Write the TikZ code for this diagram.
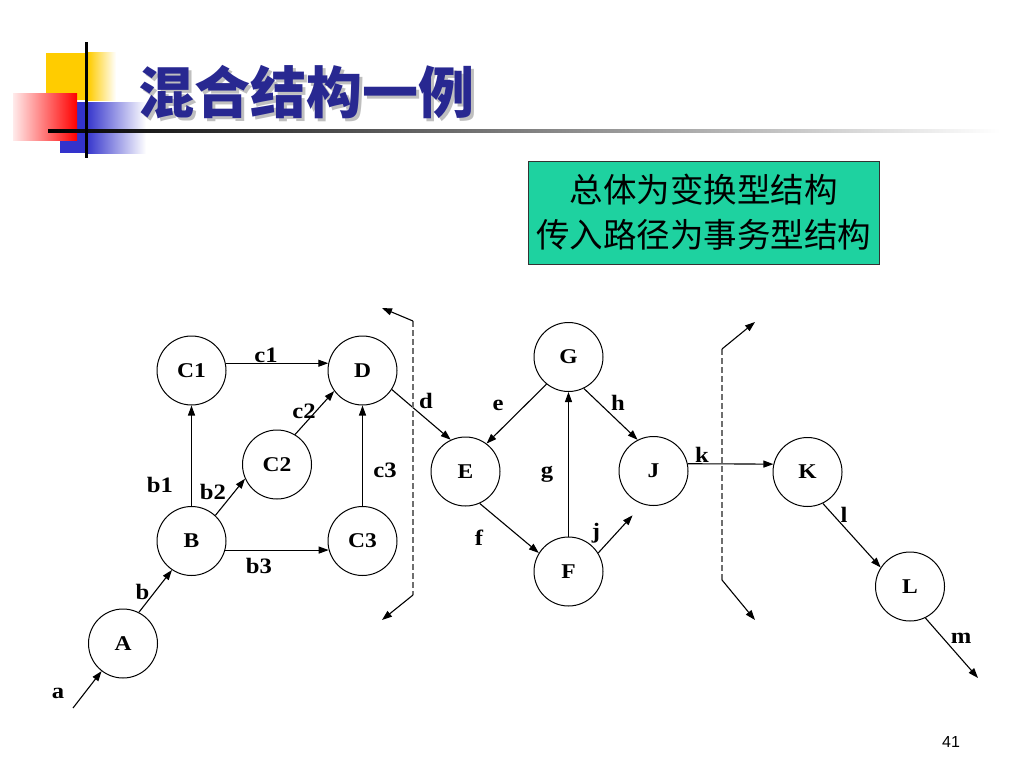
\documentclass[tikz,border=0pt]{standalone}
\usepackage{fontspec}
\setmainfont{Liberation Serif}
\newfontfamily\lblfont[FakeStretch=1.12]{Liberation Serif}
\newfontfamily\cjk{Noto Sans CJK SC}
\newfontfamily\pgsans{Liberation Sans}
\usetikzlibrary{arrows.meta}
\definecolor{titleblue}{RGB}{40,40,145}
\definecolor{decoyellow}{RGB}{255,204,0}
\definecolor{decoblue}{RGB}{51,51,204}
\definecolor{boxgreen}{RGB}{30,210,160}
\definecolor{dashgray}{RGB}{110,110,110}
\tikzset{
  st/.style={circle,draw,line width=1pt,minimum size=69pt,inner sep=0pt,font=\lblfont\fontsize{21}{21}\selectfont\bfseries},
  lbl/.style={font=\lblfont\fontsize{22}{22}\selectfont\bfseries,inner sep=0pt,anchor=base},
  flow/.style={line width=1.1pt,-{Triangle[length=10pt,width=7pt]}},
  brk/.style={draw=dashgray,line width=1.2pt,dash pattern=on 6pt off 3pt},
}
\begin{document}
\begin{tikzpicture}[x=1pt,y=-1pt]
\useasboundingbox (0,0) rectangle (1024,768);
\fill[white] (0,0) rectangle (1024,768);
% decoration
\fill[decoyellow] (46,53) rectangle (88,100);
\shade[left color=decoyellow,right color=white] (88,53) rectangle (116,100);
\shade[left color=decoblue,right color=white] (86,102) rectangle (146,153);
\fill[decoblue] (60,102) rectangle (86,153);
\shade[left color=red!8,right color=red] (13,93) rectangle (77,140);
\shade[left color=black,middle color=black!70,right color=white] (48,129.5) rectangle (1000,132.5);
\fill[black] (84.5,42) rectangle (87.5,158);
% title
\node[anchor=west,text=gray!50,font=\cjk\bfseries\fontsize{56}{56}\selectfont,inner sep=0pt] (titleshadow) at (141,95) {混合结构一例};
\node[anchor=west,text=titleblue,font=\cjk\bfseries\fontsize{56}{56}\selectfont,inner sep=0pt] (title) at (138,92) {混合结构一例};
% green box
\node[draw=black!80,fill=boxgreen,line width=0.8pt,minimum width=351pt,minimum height=103pt,align=center,inner sep=0pt,font=\cjk\fontsize{33.5}{45}\selectfont] (note) at (703.5,212.5) {总体为变换型结构\\传入路径为事务型结构};
% nodes
\node[st] (A) at (123,643.5) {A};
\node[st] (B) at (191.5,541) {B};
\node[st] (C1) at (191.5,370.5) {C1};
\node[st] (C2) at (277,464.5) {C2};
\node[st] (C3) at (362.5,541) {C3};
\node[st] (D) at (362.5,370.5) {D};
\node[st] (E) at (465.5,471.5) {E};
\node[st] (G) at (568.5,357) {G};
\node[st] (F) at (568.5,571.5) {F};
\node[st] (J) at (653.5,471) {J};
\node[st] (K) at (807.5,472) {K};
\node[st] (L) at (910,586.5) {L};
% free ends
\coordinate (a0) at (73,708);
\coordinate (m0) at (978,678);
\coordinate (lb1) at (413,321);
\coordinate (lb2) at (413,595);
\coordinate (lbt) at (382,308);
\coordinate (lbb) at (382,620);
\coordinate (rb1) at (722,349);
\coordinate (rb2) at (722,580);
\coordinate (rbt) at (755,322);
\coordinate (rbb) at (755,620);
% connectors
\draw[flow] (a0) -- (A);
\draw[flow] (A.63) -- (B.236);
\draw[flow] (B.90) -- (C1.270);
\draw[flow] (B.47) -- (C2.204);
\draw[flow] (B.-15) -- (C3.195);
\draw[flow] (C1.12) -- (D.168);
\draw[flow] (C2.59) -- (D.216);
\draw[flow] (C3.90) -- (D.270);
\draw[flow] (D.-33) -- (E.115);
\draw[flow] (G.231) -- (E.53);
\draw[flow] (E.-66) -- (F.148);
\draw[flow] (F.90) -- (G.270);
\draw[flow] (G.-64) -- (J.117);
\draw[flow,shorten >=15pt] (F.32) -- (J.252);
\draw[flow] (J.12) -- (K.167);
\draw[flow] (K.-64) -- (L.147);
\draw[flow] (L.-64) -- (m0);
% brackets
\draw[brk] (lb1) -- (lb2);
\draw[flow] (lb1) -- (lbt);
\draw[flow] (lb2) -- (lbb);
\draw[brk] (rb1) -- (rb2);
\draw[flow] (rb1) -- (rbt);
\draw[flow] (rb2) -- (rbb);
% labels
\node[lbl] (la) at (58,698) {a};
\node[lbl] (lbb0) at (142.5,599) {b};
\node[lbl] (lb1t) at (160,492) {b1};
\node[lbl] (lb2t) at (213,499) {b2};
\node[lbl] (lb3t) at (259,573) {b3};
\node[lbl] (lc1) at (266,362) {c1};
\node[lbl] (lc2) at (304,418) {c2};
\node[lbl] (lc3) at (385,477) {c3};
\node[lbl] (ld) at (426,408) {d};
\node[lbl] (le) at (498,410) {e};
\node[lbl] (lf) at (479,545) {f};
\node[lbl] (lg) at (547,477) {g};
\node[lbl] (lh) at (618,410) {h};
\node[lbl] (lj) at (596,538) {j};
\node[lbl] (lk) at (702,462) {k};
\node[lbl] (ll) at (844,522) {l};
\node[lbl] (lm) at (961,643) {m};
% page number
\node[font=\pgsans\fontsize{16}{16}\selectfont,inner sep=0pt] (pg) at (951,742) {41};
\end{tikzpicture}
\end{document}
